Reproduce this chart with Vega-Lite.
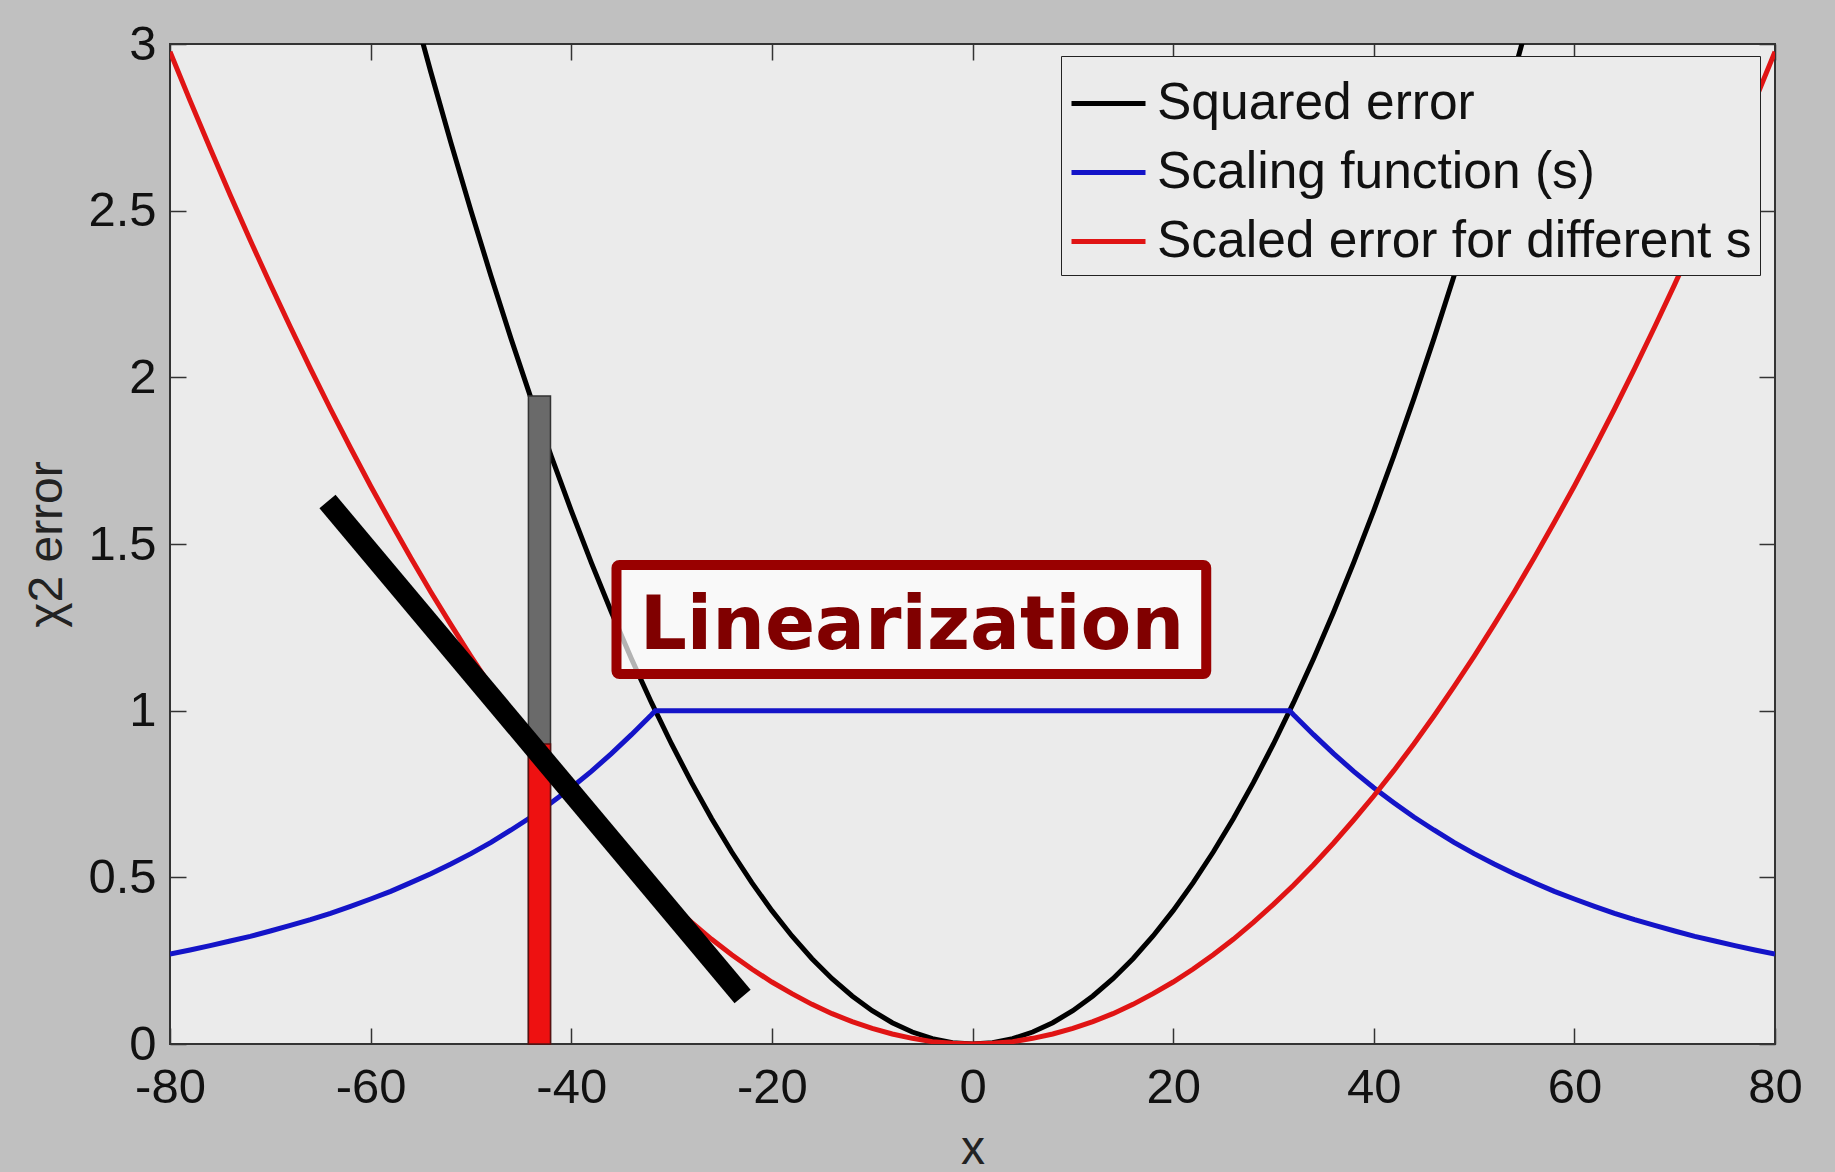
{
  "$schema": "https://vega.github.io/schema/vega-lite/v6.json",
  "width": 1605,
  "height": 1000,
  "autosize": {"type": "none"},
  "padding": {"left": 170, "top": 44, "right": 60, "bottom": 128},
  "background": "#c0c0c0",
  "view": {"fill": "#ebebeb", "stroke": "#333333", "strokeWidth": 2},
  "config": {
    "axis": {
      "domain": false,
      "grid": false,
      "tickColor": "#333333",
      "tickWidth": 1.5,
      "tickSize": -16,
      "labelFont": "Liberation Sans",
      "labelFontSize": 49,
      "labelColor": "#111111",
      "titleFont": "Liberation Sans",
      "titleFontSize": 48,
      "titleFontWeight": "normal",
      "titleColor": "#222222"
    }
  },
  "datasets": {
    "curves": [
      {"x": -56, "y": 3.136, "series": "Squared error"},
      {"x": -54, "y": 2.916, "series": "Squared error"},
      {"x": -52, "y": 2.704, "series": "Squared error"},
      {"x": -50, "y": 2.5, "series": "Squared error"},
      {"x": -48, "y": 2.304, "series": "Squared error"},
      {"x": -46, "y": 2.116, "series": "Squared error"},
      {"x": -44, "y": 1.936, "series": "Squared error"},
      {"x": -42, "y": 1.764, "series": "Squared error"},
      {"x": -40, "y": 1.6, "series": "Squared error"},
      {"x": -38, "y": 1.444, "series": "Squared error"},
      {"x": -36, "y": 1.296, "series": "Squared error"},
      {"x": -34, "y": 1.156, "series": "Squared error"},
      {"x": -32, "y": 1.024, "series": "Squared error"},
      {"x": -30, "y": 0.9, "series": "Squared error"},
      {"x": -28, "y": 0.784, "series": "Squared error"},
      {"x": -26, "y": 0.676, "series": "Squared error"},
      {"x": -24, "y": 0.576, "series": "Squared error"},
      {"x": -22, "y": 0.484, "series": "Squared error"},
      {"x": -20, "y": 0.4, "series": "Squared error"},
      {"x": -18, "y": 0.324, "series": "Squared error"},
      {"x": -16, "y": 0.256, "series": "Squared error"},
      {"x": -14, "y": 0.196, "series": "Squared error"},
      {"x": -12, "y": 0.144, "series": "Squared error"},
      {"x": -10, "y": 0.1, "series": "Squared error"},
      {"x": -8, "y": 0.064, "series": "Squared error"},
      {"x": -6, "y": 0.036, "series": "Squared error"},
      {"x": -4, "y": 0.016, "series": "Squared error"},
      {"x": -2, "y": 0.004, "series": "Squared error"},
      {"x": 0, "y": 0, "series": "Squared error"},
      {"x": 2, "y": 0.004, "series": "Squared error"},
      {"x": 4, "y": 0.016, "series": "Squared error"},
      {"x": 6, "y": 0.036, "series": "Squared error"},
      {"x": 8, "y": 0.064, "series": "Squared error"},
      {"x": 10, "y": 0.1, "series": "Squared error"},
      {"x": 12, "y": 0.144, "series": "Squared error"},
      {"x": 14, "y": 0.196, "series": "Squared error"},
      {"x": 16, "y": 0.256, "series": "Squared error"},
      {"x": 18, "y": 0.324, "series": "Squared error"},
      {"x": 20, "y": 0.4, "series": "Squared error"},
      {"x": 22, "y": 0.484, "series": "Squared error"},
      {"x": 24, "y": 0.576, "series": "Squared error"},
      {"x": 26, "y": 0.676, "series": "Squared error"},
      {"x": 28, "y": 0.784, "series": "Squared error"},
      {"x": 30, "y": 0.9, "series": "Squared error"},
      {"x": 32, "y": 1.024, "series": "Squared error"},
      {"x": 34, "y": 1.156, "series": "Squared error"},
      {"x": 36, "y": 1.296, "series": "Squared error"},
      {"x": 38, "y": 1.444, "series": "Squared error"},
      {"x": 40, "y": 1.6, "series": "Squared error"},
      {"x": 42, "y": 1.764, "series": "Squared error"},
      {"x": 44, "y": 1.936, "series": "Squared error"},
      {"x": 46, "y": 2.116, "series": "Squared error"},
      {"x": 48, "y": 2.304, "series": "Squared error"},
      {"x": 50, "y": 2.5, "series": "Squared error"},
      {"x": 52, "y": 2.704, "series": "Squared error"},
      {"x": 54, "y": 2.916, "series": "Squared error"},
      {"x": 56, "y": 3.136, "series": "Squared error"},

      {"x": -80, "y": 0.270, "series": "Scaling function (s)"},
      {"x": -78, "y": 0.282, "series": "Scaling function (s)"},
      {"x": -76, "y": 0.295, "series": "Scaling function (s)"},
      {"x": -74, "y": 0.309, "series": "Scaling function (s)"},
      {"x": -72, "y": 0.323, "series": "Scaling function (s)"},
      {"x": -70, "y": 0.339, "series": "Scaling function (s)"},
      {"x": -68, "y": 0.356, "series": "Scaling function (s)"},
      {"x": -66, "y": 0.373, "series": "Scaling function (s)"},
      {"x": -64, "y": 0.392, "series": "Scaling function (s)"},
      {"x": -62, "y": 0.413, "series": "Scaling function (s)"},
      {"x": -60, "y": 0.435, "series": "Scaling function (s)"},
      {"x": -58, "y": 0.458, "series": "Scaling function (s)"},
      {"x": -56, "y": 0.484, "series": "Scaling function (s)"},
      {"x": -54, "y": 0.511, "series": "Scaling function (s)"},
      {"x": -52, "y": 0.540, "series": "Scaling function (s)"},
      {"x": -50, "y": 0.571, "series": "Scaling function (s)"},
      {"x": -48, "y": 0.605, "series": "Scaling function (s)"},
      {"x": -46, "y": 0.642, "series": "Scaling function (s)"},
      {"x": -44, "y": 0.681, "series": "Scaling function (s)"},
      {"x": -42, "y": 0.724, "series": "Scaling function (s)"},
      {"x": -40, "y": 0.769, "series": "Scaling function (s)"},
      {"x": -38, "y": 0.818, "series": "Scaling function (s)"},
      {"x": -36, "y": 0.871, "series": "Scaling function (s)"},
      {"x": -34, "y": 0.928, "series": "Scaling function (s)"},
      {"x": -32, "y": 0.988, "series": "Scaling function (s)"},
      {"x": -31.62, "y": 1.0, "series": "Scaling function (s)"},
      {"x": 31.62, "y": 1.0, "series": "Scaling function (s)"},
      {"x": 32, "y": 0.988, "series": "Scaling function (s)"},
      {"x": 34, "y": 0.928, "series": "Scaling function (s)"},
      {"x": 36, "y": 0.871, "series": "Scaling function (s)"},
      {"x": 38, "y": 0.818, "series": "Scaling function (s)"},
      {"x": 40, "y": 0.769, "series": "Scaling function (s)"},
      {"x": 42, "y": 0.724, "series": "Scaling function (s)"},
      {"x": 44, "y": 0.681, "series": "Scaling function (s)"},
      {"x": 46, "y": 0.642, "series": "Scaling function (s)"},
      {"x": 48, "y": 0.605, "series": "Scaling function (s)"},
      {"x": 50, "y": 0.571, "series": "Scaling function (s)"},
      {"x": 52, "y": 0.540, "series": "Scaling function (s)"},
      {"x": 54, "y": 0.511, "series": "Scaling function (s)"},
      {"x": 56, "y": 0.484, "series": "Scaling function (s)"},
      {"x": 58, "y": 0.458, "series": "Scaling function (s)"},
      {"x": 60, "y": 0.435, "series": "Scaling function (s)"},
      {"x": 62, "y": 0.413, "series": "Scaling function (s)"},
      {"x": 64, "y": 0.392, "series": "Scaling function (s)"},
      {"x": 66, "y": 0.373, "series": "Scaling function (s)"},
      {"x": 68, "y": 0.356, "series": "Scaling function (s)"},
      {"x": 70, "y": 0.339, "series": "Scaling function (s)"},
      {"x": 72, "y": 0.323, "series": "Scaling function (s)"},
      {"x": 74, "y": 0.309, "series": "Scaling function (s)"},
      {"x": 76, "y": 0.295, "series": "Scaling function (s)"},
      {"x": 78, "y": 0.282, "series": "Scaling function (s)"},
      {"x": 80, "y": 0.270, "series": "Scaling function (s)"},

      {"x": -80, "y": 2.977, "series": "Scaled error for different s"},
      {"x": -78, "y": 2.830, "series": "Scaled error for different s"},
      {"x": -76, "y": 2.687, "series": "Scaled error for different s"},
      {"x": -74, "y": 2.547, "series": "Scaled error for different s"},
      {"x": -72, "y": 2.411, "series": "Scaled error for different s"},
      {"x": -70, "y": 2.279, "series": "Scaled error for different s"},
      {"x": -68, "y": 2.151, "series": "Scaled error for different s"},
      {"x": -66, "y": 2.026, "series": "Scaled error for different s"},
      {"x": -64, "y": 1.905, "series": "Scaled error for different s"},
      {"x": -62, "y": 1.788, "series": "Scaled error for different s"},
      {"x": -60, "y": 1.674, "series": "Scaled error for different s"},
      {"x": -58, "y": 1.565, "series": "Scaled error for different s"},
      {"x": -56, "y": 1.459, "series": "Scaled error for different s"},
      {"x": -54, "y": 1.356, "series": "Scaled error for different s"},
      {"x": -52, "y": 1.258, "series": "Scaled error for different s"},
      {"x": -50, "y": 1.163, "series": "Scaled error for different s"},
      {"x": -48, "y": 1.072, "series": "Scaled error for different s"},
      {"x": -46, "y": 0.984, "series": "Scaled error for different s"},
      {"x": -44, "y": 0.900, "series": "Scaled error for different s"},
      {"x": -42, "y": 0.820, "series": "Scaled error for different s"},
      {"x": -40, "y": 0.744, "series": "Scaled error for different s"},
      {"x": -38, "y": 0.672, "series": "Scaled error for different s"},
      {"x": -36, "y": 0.603, "series": "Scaled error for different s"},
      {"x": -34, "y": 0.538, "series": "Scaled error for different s"},
      {"x": -32, "y": 0.476, "series": "Scaled error for different s"},
      {"x": -30, "y": 0.419, "series": "Scaled error for different s"},
      {"x": -28, "y": 0.365, "series": "Scaled error for different s"},
      {"x": -26, "y": 0.314, "series": "Scaled error for different s"},
      {"x": -24, "y": 0.268, "series": "Scaled error for different s"},
      {"x": -22, "y": 0.225, "series": "Scaled error for different s"},
      {"x": -20, "y": 0.186, "series": "Scaled error for different s"},
      {"x": -18, "y": 0.151, "series": "Scaled error for different s"},
      {"x": -16, "y": 0.119, "series": "Scaled error for different s"},
      {"x": -14, "y": 0.091, "series": "Scaled error for different s"},
      {"x": -12, "y": 0.067, "series": "Scaled error for different s"},
      {"x": -10, "y": 0.047, "series": "Scaled error for different s"},
      {"x": -8, "y": 0.030, "series": "Scaled error for different s"},
      {"x": -6, "y": 0.017, "series": "Scaled error for different s"},
      {"x": -4, "y": 0.007, "series": "Scaled error for different s"},
      {"x": -2, "y": 0.002, "series": "Scaled error for different s"},
      {"x": 0, "y": 0, "series": "Scaled error for different s"},
      {"x": 2, "y": 0.002, "series": "Scaled error for different s"},
      {"x": 4, "y": 0.007, "series": "Scaled error for different s"},
      {"x": 6, "y": 0.017, "series": "Scaled error for different s"},
      {"x": 8, "y": 0.030, "series": "Scaled error for different s"},
      {"x": 10, "y": 0.047, "series": "Scaled error for different s"},
      {"x": 12, "y": 0.067, "series": "Scaled error for different s"},
      {"x": 14, "y": 0.091, "series": "Scaled error for different s"},
      {"x": 16, "y": 0.119, "series": "Scaled error for different s"},
      {"x": 18, "y": 0.151, "series": "Scaled error for different s"},
      {"x": 20, "y": 0.186, "series": "Scaled error for different s"},
      {"x": 22, "y": 0.225, "series": "Scaled error for different s"},
      {"x": 24, "y": 0.268, "series": "Scaled error for different s"},
      {"x": 26, "y": 0.314, "series": "Scaled error for different s"},
      {"x": 28, "y": 0.365, "series": "Scaled error for different s"},
      {"x": 30, "y": 0.419, "series": "Scaled error for different s"},
      {"x": 32, "y": 0.476, "series": "Scaled error for different s"},
      {"x": 34, "y": 0.538, "series": "Scaled error for different s"},
      {"x": 36, "y": 0.603, "series": "Scaled error for different s"},
      {"x": 38, "y": 0.672, "series": "Scaled error for different s"},
      {"x": 40, "y": 0.744, "series": "Scaled error for different s"},
      {"x": 42, "y": 0.820, "series": "Scaled error for different s"},
      {"x": 44, "y": 0.900, "series": "Scaled error for different s"},
      {"x": 46, "y": 0.984, "series": "Scaled error for different s"},
      {"x": 48, "y": 1.072, "series": "Scaled error for different s"},
      {"x": 50, "y": 1.163, "series": "Scaled error for different s"},
      {"x": 52, "y": 1.258, "series": "Scaled error for different s"},
      {"x": 54, "y": 1.356, "series": "Scaled error for different s"},
      {"x": 56, "y": 1.459, "series": "Scaled error for different s"},
      {"x": 58, "y": 1.565, "series": "Scaled error for different s"},
      {"x": 60, "y": 1.674, "series": "Scaled error for different s"},
      {"x": 62, "y": 1.788, "series": "Scaled error for different s"},
      {"x": 64, "y": 1.905, "series": "Scaled error for different s"},
      {"x": 66, "y": 2.026, "series": "Scaled error for different s"},
      {"x": 68, "y": 2.151, "series": "Scaled error for different s"},
      {"x": 70, "y": 2.279, "series": "Scaled error for different s"},
      {"x": 72, "y": 2.411, "series": "Scaled error for different s"},
      {"x": 74, "y": 2.547, "series": "Scaled error for different s"},
      {"x": 76, "y": 2.687, "series": "Scaled error for different s"},
      {"x": 78, "y": 2.830, "series": "Scaled error for different s"},
      {"x": 80, "y": 2.977, "series": "Scaled error for different s"}
    ],
    "bars": [
      {"x1": -44.27, "x2": -42.07, "y1": 0, "y2": 1.944, "part": "squared"},
      {"x1": -44.27, "x2": -42.07, "y1": 0, "y2": 0.9, "part": "scaled"}
    ],
    "tangent": [
      {"x1": -64.3, "y1": 1.6275, "x2": -22.92, "y2": 0.1425}
    ],
    "label": [
      {"x1": -35.49, "x2": 23.3, "y1": 1.11, "y2": 1.437, "xm": -6.04, "yb": 1.185, "text": "Linearization"}
    ]
  },
  "resolve": {"axis": {"x": "independent", "y": "independent"}},
  "layer": [
    {
      "data": {"name": "curves"},
      "mark": {"type": "line", "strokeWidth": 5, "clip": true},
      "encoding": {
        "x": {
          "field": "x", "type": "quantitative",
          "scale": {"domain": [-80, 80], "nice": false, "zero": false},
          "axis": {
            "orient": "bottom", "title": "x",
            "values": [-80, -60, -40, -20, 0, 20, 40, 60, 80],
            "labelExpr": "'' + datum.value",
            "labelPadding": 35, "titlePadding": 13, "labelFlush": false
          }
        },
        "y": {
          "field": "y", "type": "quantitative",
          "scale": {"domain": [0, 3], "nice": false},
          "axis": {
            "orient": "left", "title": "χ2 error",
            "values": [0, 0.5, 1, 1.5, 2, 2.5, 3], "format": ".1~f",
            "labelPadding": 30, "titlePadding": 16
          }
        },
        "color": {
          "field": "series", "type": "nominal",
          "scale": {
            "domain": ["Squared error", "Scaling function (s)", "Scaled error for different s"],
            "range": ["#000000", "#1414c8", "#e01414"]
          },
          "legend": {
            "orient": "none", "legendX": 891, "legendY": 12,
            "title": null,
            "strokeColor": "#222222", "fillColor": "#ebebeb",
            "padding": 8,
            "labelFont": "Liberation Sans", "labelFontSize": 51.5, "labelColor": "#111111",
            "labelLimit": 0,
            "symbolType": "stroke", "symbolStrokeWidth": 5, "symbolSize": 5476,
            "labelOffset": 9, "rowPadding": 4
          }
        }
      }
    },
    {
      "data": {"name": "bars"},
      "mark": {"type": "rect", "strokeWidth": 1.5},
      "encoding": {
        "x": {
          "field": "x1", "type": "quantitative",
          "axis": {"orient": "top", "title": null, "labels": false,
                   "values": [-80, -60, -40, -20, 0, 20, 40, 60, 80]}
        },
        "x2": {"field": "x2"},
        "y": {
          "field": "y1", "type": "quantitative",
          "axis": {"orient": "right", "title": null, "labels": false,
                   "values": [0, 0.5, 1, 1.5, 2, 2.5, 3]}
        },
        "y2": {"field": "y2"},
        "fill": {
          "field": "part", "type": "nominal",
          "scale": {"domain": ["squared", "scaled"], "range": ["#6a6a6a", "#ee1111"]},
          "legend": null
        },
        "stroke": {
          "field": "part", "type": "nominal",
          "scale": {"domain": ["squared", "scaled"], "range": ["#333333", "#5a1010"]},
          "legend": null
        },
        "order": {"field": "y2", "sort": "descending"}
      }
    },
    {
      "data": {"name": "tangent"},
      "mark": {"type": "rule", "strokeWidth": 21, "strokeCap": "butt", "color": "#000000"},
      "encoding": {
        "x": {"field": "x1", "type": "quantitative", "axis": null},
        "y": {"field": "y1", "type": "quantitative", "axis": null},
        "x2": {"field": "x2"},
        "y2": {"field": "y2"}
      }
    },
    {
      "data": {"name": "label"},
      "mark": {"type": "rect", "fill": "#ffffff", "fillOpacity": 0.7, "stroke": "#990000", "strokeWidth": 10, "cornerRadius": 3},
      "encoding": {
        "x": {"field": "x1", "type": "quantitative", "axis": null},
        "x2": {"field": "x2"},
        "y": {"field": "y1", "type": "quantitative", "axis": null},
        "y2": {"field": "y2"}
      }
    },
    {
      "data": {"name": "label"},
      "mark": {"type": "text", "font": "DejaVu Sans", "fontWeight": "bold", "fontSize": 74, "color": "#800000", "align": "center", "baseline": "alphabetic"},
      "encoding": {
        "x": {"field": "xm", "type": "quantitative", "axis": null},
        "y": {"field": "yb", "type": "quantitative", "axis": null},
        "text": {"field": "text"}
      }
    }
  ]
}
